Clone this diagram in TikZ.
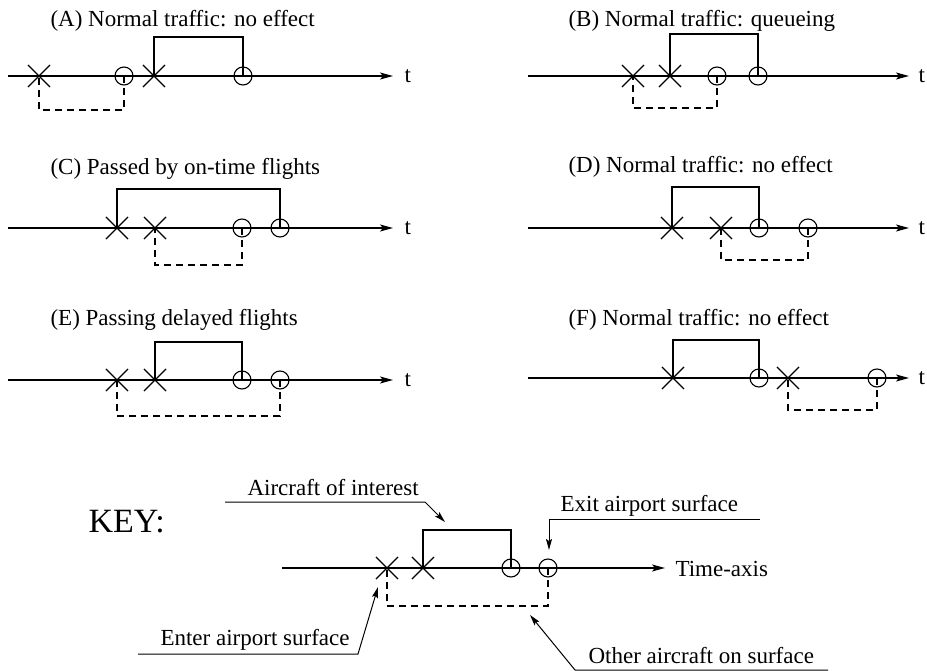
\documentclass[tikz,border=0pt]{standalone}
\usepackage{fontspec}
\setmainfont{Liberation Serif}
\usetikzlibrary{shapes.misc,arrows.meta}
\begin{document}
\begin{tikzpicture}[x=1pt,y=-1pt,
  line width=1.1pt,
  xm/.style={cross out,draw,minimum size=21pt,inner sep=0pt,line width=1.1pt},
  om/.style={circle,draw,minimum size=18pt,inner sep=0pt,line width=1.1pt},
  axis/.style={-{Stealth[length=13pt,width=7pt,inset=3pt]}},
  other/.style={dash pattern=on 7pt off 5pt},
  lbl/.style={font=\fontsize{23}{27}\selectfont,inner sep=0pt},
  callout/.style={-{Stealth[length=11pt,width=6pt,inset=2pt]},line width=1pt}
]
\path[use as bounding box] (0,0) rectangle (927,671);

% ---------- Panel A ----------
\node[lbl,anchor=base west] (Attl) at (50,27) {(A) Normal traffic: no effect};
\coordinate (As) at (8,76); \coordinate (Ae) at (393,76);
\draw[axis] (As) -- (Ae);
\node[lbl,anchor=west] (At) at (404,76) {t};
\node[xm] (Ax1) at (39,76) {}; \node[xm] (Ax2) at (154,76) {};
\node[om] (Ao1) at (124,76) {}; \node[om] (Ao2) at (243,76) {};
\coordinate (Atop) at (0,37); \coordinate (Abot) at (0,110);
\draw (Ax2.center) -- (Ax2.center |- Atop) -- (Ao2.center |- Atop) -- (Ao2.center);
\draw[other] (Ao1.center) -- (Ao1.center |- Abot) -- (Ax1.center |- Abot) -- (Ax1.center);

% ---------- Panel B ----------
\node[lbl,anchor=base west] (Bttl) at (568,27) {(B) Normal traffic: queueing};
\coordinate (Bs) at (528,76); \coordinate (Be) at (909,76);
\draw[axis] (Bs) -- (Be);
\node[lbl,anchor=west] (Bt) at (918,76) {t};
\node[xm] (Bx1) at (633,76) {}; \node[xm] (Bx2) at (670,76) {};
\node[om] (Bo1) at (717,76) {}; \node[om] (Bo2) at (758,76) {};
\coordinate (Btop) at (0,34); \coordinate (Bbot) at (0,108);
\draw (Bx2.center) -- (Bx2.center |- Btop) -- (Bo2.center |- Btop) -- (Bo2.center);
\draw[other] (Bo1.center) -- (Bo1.center |- Bbot) -- (Bx1.center |- Bbot) -- (Bx1.center);

% ---------- Panel C ----------
\node[lbl,anchor=base west] (Cttl) at (50,175) {(C) Passed by on-time flights};
\coordinate (Cs) at (8,228); \coordinate (Ce) at (393,228);
\draw[axis] (Cs) -- (Ce);
\node[lbl,anchor=west] (Ct) at (404,228) {t};
\node[xm] (Cx1) at (117,228) {}; \node[xm] (Cx2) at (155,228) {};
\node[om] (Co1) at (242,228) {}; \node[om] (Co2) at (280,228) {};
\coordinate (Ctop) at (0,189); \coordinate (Cbot) at (0,265);
\draw (Cx1.center) -- (Cx1.center |- Ctop) -- (Co2.center |- Ctop) -- (Co2.center);
\draw[other] (Co1.center) -- (Co1.center |- Cbot) -- (Cx2.center |- Cbot) -- (Cx2.center);

% ---------- Panel D ----------
\node[lbl,anchor=base west] (Dttl) at (568,173) {(D) Normal traffic: no effect};
\coordinate (Ds) at (528,228); \coordinate (De) at (909,228);
\draw[axis] (Ds) -- (De);
\node[lbl,anchor=west] (Dt) at (918,228) {t};
\node[xm] (Dx1) at (672,228) {}; \node[xm] (Dx2) at (721,228) {};
\node[om] (Do1) at (759,228) {}; \node[om] (Do2) at (808,228) {};
\coordinate (Dtop) at (0,187); \coordinate (Dbot) at (0,260);
\draw (Dx1.center) -- (Dx1.center |- Dtop) -- (Do1.center |- Dtop) -- (Do1.center);
\draw[other] (Do2.center) -- (Do2.center |- Dbot) -- (Dx2.center |- Dbot) -- (Dx2.center);

% ---------- Panel E ----------
\node[lbl,anchor=base west] (Ettl) at (50,326) {(E) Passing delayed flights};
\coordinate (Es) at (8,380); \coordinate (Ee) at (393,380);
\draw[axis] (Es) -- (Ee);
\node[lbl,anchor=west] (Et) at (404,380) {t};
\node[xm] (Ex1) at (117,380) {}; \node[xm] (Ex2) at (155,380) {};
\node[om] (Eo1) at (242,380) {}; \node[om] (Eo2) at (280,380) {};
\coordinate (Etop) at (0,342); \coordinate (Ebot) at (0,416);
\draw (Ex2.center) -- (Ex2.center |- Etop) -- (Eo1.center |- Etop) -- (Eo1.center);
\draw[other] (Eo2.center) -- (Eo2.center |- Ebot) -- (Ex1.center |- Ebot) -- (Ex1.center);

% ---------- Panel F ----------
\node[lbl,anchor=base west] (Fttl) at (568,325) {(F) Normal traffic: no effect};
\coordinate (Fs) at (528,378); \coordinate (Fe) at (909,378);
\draw[axis] (Fs) -- (Fe);
\node[lbl,anchor=west] (Ft) at (918,378) {t};
\node[xm] (Fx1) at (673,378) {}; \node[xm] (Fx2) at (788,378) {};
\node[om] (Fo1) at (759,378) {}; \node[om] (Fo2) at (877,378) {};
\coordinate (Ftop) at (0,340); \coordinate (Fbot) at (0,410);
\draw (Fx1.center) -- (Fx1.center |- Ftop) -- (Fo1.center |- Ftop) -- (Fo1.center);
\draw[other] (Fo2.center) -- (Fo2.center |- Fbot) -- (Fx2.center |- Fbot) -- (Fx2.center);

% ---------- KEY ----------
\node[font=\fontsize{34}{40}\selectfont,inner sep=0pt,anchor=base west] (key) at (88,532) {KEY:};
\coordinate (Ks) at (282,568); \coordinate (Ke) at (665,568);
\draw[axis] (Ks) -- (Ke);
\node[lbl,anchor=west] (Kt) at (675,569) {Time-axis};
\node[xm] (Kx1) at (387,568) {}; \node[xm] (Kx2) at (423,568) {};
\node[om] (Ko1) at (511,568) {}; \node[om] (Ko2) at (548,568) {};
\coordinate (Ktop) at (0,530); \coordinate (Kbot) at (0,606);
\draw (Kx2.center) -- (Kx2.center |- Ktop) -- (Ko1.center |- Ktop) -- (Ko1.center);
\draw[other] (Ko2.center) -- (Ko2.center |- Kbot) -- (Kx1.center |- Kbot) -- (Kx1.center);

% callouts
\node[lbl,anchor=base west] (aoi) at (247,495) {Aircraft of interest};
\coordinate (aoiL) at (225,502); \coordinate (aoiR) at (425,502); \coordinate (aoiT) at (445,522);
\draw[callout] (aoiL) -- (aoiR) -- (aoiT);

\node[lbl,anchor=base west] (exit) at (560,511) {Exit airport surface};
\coordinate (exR) at (760,519); \coordinate (exL) at (549,519); \coordinate (exT) at (549,550);
\draw[callout] (exR) -- (exL) -- (exT);

\node[lbl,anchor=base west] (enter) at (160,645) {Enter airport surface};
\coordinate (enL) at (138,654); \coordinate (enR) at (358,654); \coordinate (enT) at (378,587);
\draw[callout] (enL) -- (enR) -- (enT);

\node[lbl,anchor=base west] (oth) at (588,663) {Other aircraft on surface};
\coordinate (otR) at (828,670); \coordinate (otL) at (575,670); \coordinate (otT) at (530,615);
\draw[callout] (otR) -- (otL) -- (otT);
\end{tikzpicture}
\end{document}
